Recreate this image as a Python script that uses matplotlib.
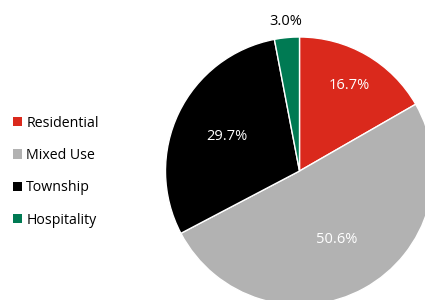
import numpy as np
import matplotlib.pyplot as plt

categories = ["Residential", "Mixed Use", "Township", "Hospitality"]
shares = [16.7, 50.6, 29.7, 3.0]
colors = ["#DA291C", "#B2B2B2", "#000000", "#007A53"]
label_colors = ["white", "white", "white", "black"]
label_dist = [0.74, 0.58, 0.6, 1.12]

plt.rcParams['font.family'] = ['Open Sans', 'DejaVu Sans']

fig = plt.figure(figsize=(4.25, 3.0), dpi=100)
ax = fig.add_axes([0, 0, 1, 1])

cx, cy, r = 299.5, 129, 134
wedges, _ = ax.pie(shares, colors=colors, startangle=90, counterclock=False,
                   center=(cx, cy), radius=r,
                   wedgeprops=dict(edgecolor="white", linewidth=1))

# percentage labels, placed along each wedge's mid angle
for w, val, c, d in zip(wedges, shares, label_colors, label_dist):
    mid = np.deg2rad((w.theta1 + w.theta2) / 2)
    ax.text(cx + d * r * np.cos(mid), cy + d * r * np.sin(mid), f"{val:.1f}%",
            ha="center", va="center", color=c, fontsize=10.5)

ax.set_xlim(0, 425)
ax.set_ylim(0, 300)
ax.set_aspect("equal")
ax.axis("off")

leg = ax.legend(wedges, categories, loc="center left", bbox_to_anchor=(0.0, 0.428),
                frameon=False, fontsize=10.2, handlelength=0.65, handleheight=0.65,
                handletextpad=0.3, labelspacing=1.22)
for h in leg.legend_handles:
    h.set_edgecolor("none")

fig.savefig("out.png", dpi=100)
